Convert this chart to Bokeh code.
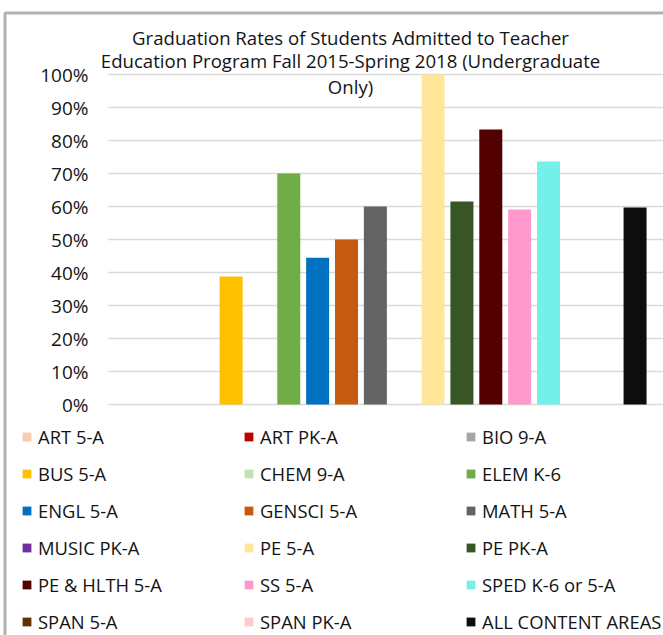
from bokeh.plotting import figure
from bokeh.models import Range1d, Legend, LegendItem, Label, BoxAnnotation
from bokeh.embed import file_html
from bokeh.resources import INLINE

# ---- data ----
series = ["ART 5-A", "ART PK-A", "BIO 9-A", "BUS 5-A", "CHEM 9-A", "ELEM K-6",
          "ENGL 5-A", "GENSCI 5-A", "MATH 5-A", "MUSIC PK-A", "PE 5-A", "PE PK-A",
          "PE & HLTH 5-A", "SS 5-A", "SPED K-6 or 5-A", "SPAN 5-A", "SPAN PK-A",
          "ALL CONTENT AREAS"]
rates = [0.0, 0.0, 0.0, 0.388, 0.0, 0.70,
         0.445, 0.50, 0.60, 0.0, 1.00, 0.615,
         0.833, 0.591, 0.736, 0.0, 0.0,
         0.597]
colors = ["#F8CBAD", "#C00000", "#A5A5A5", "#FFC000", "#C5E0B4", "#70AD47",
          "#0070C0", "#C55A11", "#636363", "#7030A0", "#FFE699", "#375623",
          "#530000", "#FF99CC", "#74EFEA", "#5F3200", "#FFCCCC",
          "#0D0D0D"]
tick_values = [0.0, 0.1, 0.2, 0.3, 0.4, 0.5, 0.6, 0.7, 0.8, 0.9, 1.0]
tick_labels = ["0%", "10%", "20%", "30%", "40%", "50%", "60%", "70%", "80%", "90%", "100%"]
title_lines = ["Graduation Rates of Students Admitted to Teacher",
               "Education Program Fall 2015-Spring 2018 (Undergraduate",
               "Only)"]

FONT = "Open Sans"
TXT = "#141414"
W, H = 663, 635

# plot-area geometry (pixels) -> data ranges spanning whole canvas
BAR0_PX, BAR_PITCH = 144.0, 28.857      # centre of first series slot, pitch
ZERO_PX, FULL_PX = 404.0, 74.0           # y pixel of 0% and 100%
PLOT_LEFT_PX = 108.0
px2x = lambda px: (px - BAR0_PX) / BAR_PITCH
py2y = lambda py: (ZERO_PX - py) / (ZERO_PX - FULL_PX)

p = figure(width=W, height=H, output_backend="svg", toolbar_location=None,
           x_range=Range1d(px2x(0), px2x(W)), y_range=Range1d(py2y(H), py2y(0)),
           x_axis_location=None, y_axis_location=None,
           min_border=0, min_border_left=0, min_border_right=0,
           min_border_top=0, min_border_bottom=0)
p.outline_line_color = None
p.xgrid.visible = False
p.ygrid.visible = False
p.background_fill_color = "white"
p.border_fill_color = "white"

# horizontal gridlines at the tick values
p.segment(x0=[px2x(PLOT_LEFT_PX)] * len(tick_values), x1=[px2x(W + 10)] * len(tick_values),
          y0=tick_values, y1=tick_values, line_color="#D9D9D9", line_width=1.6)

# y tick labels
p.text(x=[px2x(88)] * len(tick_values), y=tick_values, text=tick_labels,
       text_align="right", text_baseline="middle",
       text_font={"value": FONT}, text_font_size="19px", text_color=TXT)

items = []
for i, (name, v, c) in enumerate(zip(series, rates, colors)):
    r = p.vbar(x=[i], top=[v], bottom=0, width=0.797, fill_color=c, line_color=None)
    items.append(LegendItem(label=name, renderers=[r]))

legend = Legend(items=items, ncols=3, orientation="horizontal",
                location=(21, -4.5), padding=0, margin=0, spacing=0,
                glyph_width=11, glyph_height=11, label_standoff=6,
                label_width=205, label_height=37,
                label_text_font=FONT, label_text_font_size="18.4px",
                label_text_color=TXT, border_line_color=None,
                background_fill_alpha=0)
p.add_layout(legend, "center")

# title (three centred lines)
for txt, py in zip(title_lines, [37, 60, 86]):
    p.add_layout(Label(x=350, y=H - py, x_units="screen", y_units="screen", text=txt,
                       text_align="center", text_baseline="middle",
                       text_font=FONT, text_font_size="18.6px", text_color=TXT))

# chart border
p.add_layout(BoxAnnotation(left=4.5, right=W + 20, top=12.5, bottom=H + 20,
                           left_units="canvas", right_units="canvas",
                           top_units="canvas", bottom_units="canvas",
                           fill_alpha=0, line_color="black", line_width=3))

open("out.html", "w").write(file_html(p, INLINE))
